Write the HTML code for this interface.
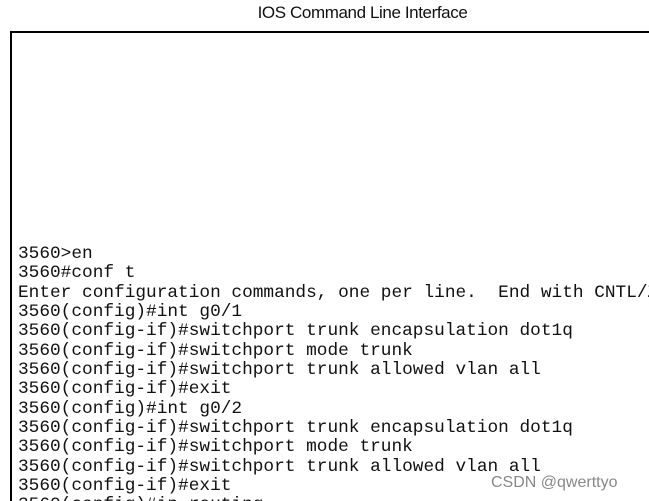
<!DOCTYPE html>
<html><head><style>
html,body{margin:0;padding:0;width:649px;height:501px;overflow:hidden;background:#fff;position:relative;}
.title{position:absolute;left:0;width:725px;top:3px;text-align:center;font:17px "Liberation Sans",sans-serif;color:#111;letter-spacing:-0.4px;}
.box{position:absolute;left:10px;top:31px;width:700px;height:480px;border-left:2px solid #000;border-top:2px solid #000;}
pre{position:absolute;left:18px;top:245px;margin:0;font:17.8px/19.35px "Liberation Mono",monospace;color:#111;}
.wm{position:absolute;left:491px;top:474px;font:16px "Liberation Sans",sans-serif;color:#888;}
</style></head><body>
<div class="title">IOS Command Line Interface</div>
<div class="box"></div>
<pre>3560&gt;en
3560#conf t
Enter configuration commands, one per line.  End with CNTL/Z.
3560(config)#int g0/1
3560(config-if)#switchport trunk encapsulation dot1q
3560(config-if)#switchport mode trunk
3560(config-if)#switchport trunk allowed vlan all
3560(config-if)#exit
3560(config)#int g0/2
3560(config-if)#switchport trunk encapsulation dot1q
3560(config-if)#switchport mode trunk
3560(config-if)#switchport trunk allowed vlan all
3560(config-if)#exit
3560(config)#ip routing</pre>
<div class="wm">CSDN @qwerttyo</div>
</body></html>
